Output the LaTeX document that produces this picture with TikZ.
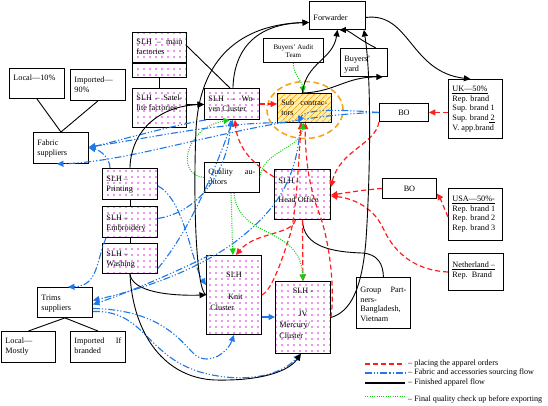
\documentclass[tikz,border=0pt]{standalone}
\usepackage{fontspec}
\setmainfont{Liberation Serif}
\usetikzlibrary{arrows.meta,patterns.meta,shapes.geometric,calc}
\definecolor{cred}{RGB}{255,30,30}
\definecolor{cblue}{RGB}{30,120,230}
\definecolor{cgreen}{RGB}{20,205,20}
\definecolor{corange}{RGB}{245,165,30}
\definecolor{cpink}{RGB}{230,40,230}
\definecolor{cyell}{RGB}{255,238,170}
\newcommand\bxfont{\fontsize{8.2}{9.7}\selectfont}
\newcommand\bx[4]{\parbox[c][#2][t]{#1}{\rule{0pt}{#3}#4}}
\newcommand\J[1]{\makebox[\linewidth][s]{#1}}
\begin{document}
\begin{tikzpicture}[x=1pt,y=-1pt,
  arr/.style={-{Triangle[length=6.5pt,width=6pt]}},
  box/.style={draw, line width=0.9pt, anchor=north west, inner xsep=4pt, inner ysep=0pt, font=\bxfont},
  wbox/.style={box, fill=white},
  pbox/.style={box, preaction={fill=white}, pattern={Dots[distance=6pt,radius=0.8pt]}, pattern color=cpink},
  hbox/.style={box, preaction={fill=cyell}, pattern={Lines[angle=45,distance=4pt,line width=0.7pt]}, pattern color=corange},
  blk/.style={draw=black, line width=0.9pt},
  blka/.style={blk, arr},
  redl/.style={draw=cred, line width=1.2pt, dash pattern=on 5pt off 3pt},
  redd/.style={redl, arr},
  blul/.style={draw=cblue, line width=1.1pt, dash pattern=on 7pt off 2pt on 1.2pt off 2pt on 1.2pt off 2pt},
  blu/.style={blul, arr},
  grnl/.style={draw=cgreen, line width=1pt, dash pattern=on 1pt off 1.3pt},
  grn/.style={grnl, arr},
  lgt/.style={anchor=west, inner sep=0pt, font=\fontsize{8.1}{10}\selectfont}]
\fill[white] (0,0) rectangle (548,405);
\useasboundingbox (0,0) rectangle (548,405);

% boxes
\node[wbox] (fwd) at (309,1) {\bx{48pt}{28pt}{19.5pt}{Forwarder}};
\node[wbox, font=\fontsize{7}{7.8}\selectfont] (aud) at (263,38) {\bx{52pt}{24pt}{11pt}{\centering Buyers' Audit\par Team}};
\node[wbox] (yard) at (340,48) {\bx{39pt}{28pt}{13pt}{Buyers'\par yard}};
\node[pbox] (mainf) at (132,32) {\bx{46pt}{45pt}{12pt}{\J{SLH – main}\par factories}};
\node[pbox] (sat) at (132,88) {\bx{46pt}{39pt}{12.5pt}{\J{SLH – Satel-}\par lite factories}};
\node[pbox] (wov) at (204,88) {\bx{47pt}{31pt}{13pt}{\J{SLH – Wo-}\par ven Cluster}};
\node[wbox] (loc10) at (9,68) {\bx{47pt}{30pt}{12pt}{Local—10\%}};
\node[wbox] (imp90) at (70,69) {\bx{47pt}{31pt}{13pt}{Imported—\par 90\%}};
\node[wbox] (fab) at (33,132) {\bx{47pt}{31pt}{13.5pt}{Fabric\par suppliers}};
\node[pbox] (prt) at (102,168) {\bx{47pt}{31pt}{13.5pt}{SLH –\par Printing}};
\node[pbox] (emb) at (102,206) {\bx{47pt}{31pt}{14pt}{SLH –\par Embroidery}};
\node[pbox] (wsh) at (102,243) {\bx{47pt}{30pt}{13.5pt}{SLH –\par Washing}};
\node[wbox] (trm) at (37,287) {\bx{47pt}{30pt}{13pt}{Trims\par suppliers}};
\node[wbox] (locm) at (1,331) {\bx{46pt}{31pt}{12pt}{Local—\par Mostly}};
\node[wbox] (impb) at (70,331) {\bx{47pt}{31pt}{12pt}{\J{Imported If}\par branded}};
\node[wbox] (qa) at (204,162) {\bx{47pt}{30pt}{12.5pt}{\J{Quality au-}\par ditors}};
\node[hbox] (sub) at (277,93) {\bx{46pt}{29pt}{12pt}{\J{Sub contrac-}\par tors}};
\node[pbox] (ho) at (274,169) {\bx{48pt}{50pt}{14pt}{SLH –\par\mbox{}\par Head Office}};
\node[wbox] (bo1) at (379,103) {\bx{41pt}{18pt}{12pt}{\centering BO}};
\node[wbox] (bo2) at (382,178) {\bx{46pt}{20pt}{13.5pt}{\centering BO}};
\node[wbox] (uk) at (448,79) {\bx{46pt}{59pt}{12pt}{\underline{UK—50\%}\par Rep. brand\par Sup. brand 1\par Sup. brand\underline{\ 2}\par V. app.brand}};
\node[wbox] (usa) at (448,188) {\bx{46pt}{52pt}{13pt}{\underline{USA—50\%-}\par Rep. brand 1\par Rep. brand 2\par Rep. brand 3}};
\node[wbox] (nl) at (448,253) {\bx{47pt}{37pt}{14pt}{\underline{Netherland –}\par Rep.\ \ Brand}};
\node[wbox] (grp) at (356,277) {\bx{46pt}{51pt}{15pt}{\J{Group Part-}\par ners-\par Bangladesh,\par Vietnam}};
\node[pbox] (jv) at (275,281) {\bx{47pt}{72pt}{12pt}{\baselineskip=11.3pt \makebox[\linewidth][c]{SLH -}\par\mbox{}\par\makebox[\linewidth][c]{JV}\par Mercury/\par Cluster}};
\node[pbox] (knit) at (206,255) {\bx{47pt}{79pt}{22.5pt}{\baselineskip=11pt \makebox[\linewidth][c]{SLH}\par\mbox{}\par\makebox[\linewidth][c]{\hspace{3pt}Knit}\par Cluster}};
\draw[line width=1.8pt] ([yshift=-31pt]mainf.north west) -- ([yshift=-31pt]mainf.north east);
\node[draw=corange, line width=1.6pt, dash pattern=on 6pt off 3.5pt, ellipse, minimum width=76pt, minimum height=57pt, inner sep=0pt] (subell) at (305,110) {};

% black structure lines
\draw[blk] (loc10.south) -- (fab.north);
\draw[blk] (imp90.south) -- (fab.north);
\draw[blk] (trm.south) -- (locm.north);
\draw[blk] (trm.south) -- (impb.north);
\draw[blk] (mainf.south) -- (sat.north);
\draw[blk] ([yshift=-14pt]mainf.north east) -- ([xshift=-2pt]wov.north);
\draw[blk] (prt.south) -- (emb.north);
\draw[blk] (emb.south) -- (wsh.north);
\draw[blk] (ho.south) .. controls (303,248) and (335,252) .. (362,253) .. controls (378,254) and (383,264) .. (grp.north);

% blue sourcing flow
\draw[blu] ([xshift=2pt]wov.south west) .. controls (170,126) and (120,140) .. (fab.east);
\draw[blu] ([xshift=8pt]sub.south west) .. controls (220,122) and (150,138) .. ([yshift=1pt]fab.east);
\draw[blu] (bo1.west) .. controls (260,115) and (140,162) .. ([xshift=-4pt]fab.south);
\draw[blu] (bo1.west) .. controls (345,110) and (305,108) .. ([xshift=-6pt]sub.south);
\draw[blu] ([xshift=8pt]prt.north west) .. controls (110,158) and (100,150) .. (fab.east);
\draw[blu] ([yshift=-2pt]prt.east) .. controls (185,200) and (192,265) .. ([yshift=10pt]knit.west);
\draw[blu] ([yshift=3.5pt]emb.east) .. controls (200,212) and (228,170) .. ([xshift=-1pt]wov.south);
\draw[blu] ([yshift=-10pt]wsh.east) .. controls (190,230) and (215,170) .. ([xshift=1pt]wov.south);
\draw[blu] ([xshift=4pt]knit.north west) .. controls (180,270) and (130,292) .. ([yshift=-2pt]trm.east);
\draw[blu] ([xshift=-4pt]sub.south) .. controls (298,185) and (270,215) .. (235,242) .. controls (190,275) and (130,292) .. ([yshift=2pt]trm.east);
\draw[blu] ([xshift=4pt]emb.south west) .. controls (96,262) and (98,286) .. ([xshift=3pt]trm.north);
\draw[blu] ([yshift=-6pt]trm.east) .. controls (160,310) and (180,340) .. (195,355) .. controls (210,366) and (228,352) .. (knit.south);
\draw[blu] ([yshift=-9pt]trm.east) .. controls (145,310) and (145,355) .. (200,372) .. controls (250,386) and (285,372) .. ([xshift=-3pt]jv.south);
\draw[blu] ([yshift=-22pt]knit.east) -- ([yshift=-22pt]knit.east -| jv.west);

% red order placing
\draw[redd] (wov.east) -- (wov.east -| sub.west);
\draw[redd] ([yshift=-8pt]ho.north west) .. controls (255,165) and (238,150) .. ([xshift=3pt]wov.south);
\draw[redd] (knit.east) .. controls (272,290) and (282,260) .. (290,235) .. controls (296,215) and (298,170) .. ([xshift=-3pt]sub.south);
\draw[redd] (jv.east) .. controls (335,290) and (330,240) .. (318,210) .. controls (308,185) and (305,150) .. ([xshift=1pt]sub.south);
\draw[redd] ([xshift=-7pt]ho.south) .. controls (292,235) and (255,232) .. ([xshift=2pt]knit.north);
\draw[redd] (ho.south) -- (jv.north);
\draw[redd] (bo1.south west) .. controls (375,145) and (340,150) .. ([yshift=-18pt]ho.north east);
\draw[redd] (bo2.west) .. controls (362,190) and (345,193) .. ([yshift=-26pt]ho.north east);
\draw[redd] (bo1.east -| uk.west) -- (bo1.east);
\draw[redd] ([yshift=-29pt]usa.north west) .. controls (443,205) and (440,198) .. ([yshift=-5pt]bo2.east);
\draw[redd] ([yshift=-19pt]nl.north west) .. controls (410,270) and (392,248) .. (383,228) .. controls (372,205) and (350,198) .. ([yshift=-27pt]ho.north east);

% green quality checks
\draw[grn] (aud.south) .. controls (293,75) and (302,80) .. ([xshift=-1pt]sub.north);
\draw[grn] (qa.west) .. controls (175,175) and (185,128) .. ([xshift=-2pt]wov.south);
\draw[grn] (qa.east) .. controls (263,150) and (300,150) .. ([xshift=-1pt]sub.south);
\draw[grn] ([xshift=-1pt]qa.south) .. controls (232,220) and (232,235) .. ([xshift=-1pt]knit.north);
\draw[grn] ([xshift=2pt]qa.south) .. controls (238,240) and (300,225) .. (jv.north);

% black finished apparel flow
\draw[blka] ([yshift=3.5pt]sat.east) -- ([yshift=3.5pt]sat.east -| wov.west);
\draw[blka] (prt.north) .. controls (131,130) and (160,106) .. ([yshift=-0.5pt]wov.west);
\draw[blka] ([xshift=1pt]wov.north) .. controls (234,50) and (255,24) .. ([yshift=-7pt]fwd.west);
\draw[blka] (knit.west) .. controls (196,290) and (193,200) .. (196,130) .. controls (200,50) and (250,24) .. ([yshift=-7pt]fwd.west);
\draw[blka] (wsh.south) .. controls (132,292) and (170,296) .. (knit.west);
\draw[blka] (wsh.south) .. controls (133,335) and (165,378) .. (215,380) .. controls (260,381) and (288,372) .. ([xshift=-2pt]jv.south);
\draw[blka] (jv.east) .. controls (350,312) and (362,290) .. (366,240) .. controls (370,180) and (372,80) .. ([xshift=-2pt]fwd.south east);
\draw[blka] ([xshift=-2pt]sub.north) .. controls (306,62) and (333,60) .. (fwd.south);
\draw[blka] ([xshift=-2pt]sub.north) .. controls (335,92) and (345,77) .. ([xshift=-5pt]yard.south east);
\draw[blka] ([xshift=12pt]yard.north) .. controls (360,40) and (348,30) .. ([xshift=2pt]fwd.south);
\draw[blka] ([yshift=-2pt]fwd.east) .. controls (410,12) and (410,72) .. ([xshift=-5pt]uk.north);

% legend
\coordinate (la1) at (365,364); \coordinate (la2) at (405,364);
\coordinate (lb1) at (365,373); \coordinate (lb2) at (405,373);
\coordinate (lc1) at (365,383); \coordinate (lc2) at (405,383);
\coordinate (ld1) at (365,396); \coordinate (ld2) at (405,396);
\draw[redl] (la1) -- (la2);
\draw[blul, line width=1.5pt] (lb1) -- (lb2);
\draw[blk, line width=1.4pt] (lc1) -- (lc2);
\draw[grnl] (ld1) -- (ld2);
\node[lgt] (ta) at (408,364) {– placing the apparel orders};
\node[lgt] (tb) at (408,373) {– Fabric and accessories sourcing flow};
\node[lgt] (tc) at (408,383) {– Finished apparel flow};
\node[lgt] (td) at (408,400) {– Final quality check up before exporting};
\end{tikzpicture}
\end{document}
